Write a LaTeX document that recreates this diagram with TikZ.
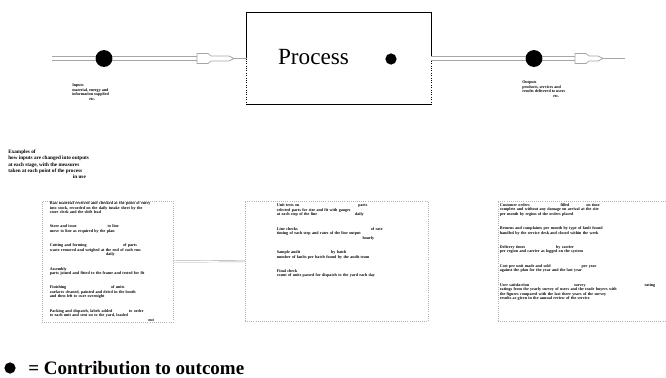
\documentclass[tikz,border=0pt]{standalone}
\usepackage{fontspec}
\setmainfont{Liberation Serif}
\usetikzlibrary{arrows.meta,positioning}

\newcommand{\minitext}{\fontsize{2.9}{3.2}\selectfont\bfseries}

\begin{document}
\begin{tikzpicture}[x=0.025cm,y=-0.025cm,
    pipe/.style={draw=gray!70, double=white, double distance=2.6pt, line width=0.6pt},
    thin/.style={draw=gray!70, line width=0.4pt},
    tip/.style={draw=gray!70, fill=white, line width=0.5pt},
    dot/.style={circle, fill=black, inner sep=0pt, minimum size=#1},
    stagebox/.style={draw=gray!60, densely dotted, line width=0.5pt, inner sep=0pt},
    small/.style={font=\minitext, align=left, inner sep=0pt}]
    \useasboundingbox (0,0) rectangle (666,377);

    % process box
    \node[minimum width=4.6cm, minimum height=2.275cm, inner sep=0pt] (proc) at (339,58.5) {};
    \draw[line width=0.7pt] (proc.west) -- (proc.north west) -- (proc.north east) -- (proc.east);
    \draw[line width=0.7pt, densely dotted] (proc.west) -- (proc.south west);
    \draw[line width=0.7pt, densely dotted] (proc.east) -- (proc.south east);
    \draw[line width=0.7pt] (proc.south west) -- (proc.south east);
    \node[font=\fontsize{16.5}{18}\selectfont] (ptext) at (313.5,57) {Process};
    \node[dot=8pt] (pdot) at (391,59) {};

    % input side
    \coordinate (inL) at (52,58.5);
    \coordinate (inA) at (197,58.5);
    \coordinate (inB) at (234,58.5);
    \draw[pipe] (inL) -- (inA);
    \draw[tip] (197,53.5) -- (208,53.5) -- (211,56) -- (229,56) -- (234,58.5) -- (229,61) -- (211,61) -- (208,63.5) -- (197,63.5) -- cycle;
    \draw[thin] (inB) -- (proc.west);
    \node[dot=12pt] (indot) at (104,58.5) {};
    \node[small, anchor=north west] (inlab) at (72,84) {Inputs\\ material, energy and\\ information supplied\\ \hspace{12pt}etc.};

    % output side
    \coordinate (outA) at (575,58.5);
    \coordinate (outB) at (603,58.5);
    \coordinate (outR) at (625,58.5);
    \draw[pipe] (proc.east) -- (outA);
    \draw[tip] (575,53.5) -- (586,53.5) -- (589,56) -- (598,56) -- (603,58.5) -- (598,61) -- (589,61) -- (586,63.5) -- (575,63.5) -- cycle;
    \draw[thin] (outB) -- (outR);
    \node[dot=12pt] (outdot) at (534,58.5) {};
    \node[small, anchor=north west] (outlab) at (522,81) {Outputs\\ products, services and\\ results delivered to users\\ \hspace{22pt}etc.};

    % examples
    \node[small, font=\fontsize{3.7}{4.3}\selectfont\bfseries, anchor=north west] (exlab) at (8,150) {Examples of\\ how inputs are changed into outputs\\ at each stage, with the measures\\ taken at each point of the process\\ \hspace{46pt}in use};

    \node[stagebox, minimum width=3.275cm, minimum height=3.025cm] (boxA) at (107.5,261.5) {};
    \node[stagebox, minimum width=4.575cm, minimum height=3cm] (boxB) at (336.5,261) {};
    \node[stagebox, minimum width=4.6cm, minimum height=3cm] (boxC) at (590,261) {};

    \node[small, anchor=north west, text width=3.05cm] (textA) at (boxA.north west) [xshift=0.2cm, yshift=-0.02cm] {%
        Raw material received and checked at the point of entry\\ into stock, recorded on the daily intake sheet by the\\ store clerk and the shift lead\\[7pt]
        Store and issue \hspace{20pt} to line\\ move to line as required by the plan\\[7pt]
        Cutting and forming \hspace{24pt} of parts\\ waste removed and weighed at the end of each run\\ \hspace{40pt}daily\\[7pt]
        Assembly\\ parts joined and fitted to the frame and tested for fit\\[7pt]
        Finishing \hspace{30pt} of units\\ surfaces cleaned, painted and dried in the booth\\ and then left to cure overnight\\[7pt]
        Packing and dispatch, labels added \hspace{10pt} to order\\ to each unit and sent on to the yard, loaded\\ \hspace{70pt}out};
    \node[small, anchor=north west, text width=3cm] (textB) at (boxB.north west) [xshift=0.8cm, yshift=-0.08cm] {%
        Unit tests on \hspace{40pt} parts\\ selected parts for size and fit with gauges\\ at each step of the line \hspace{25pt} daily\\[7pt]
        Line checks \hspace{50pt} of rate\\ timing of each step and rates of the line output\\ \hspace{60pt} hourly\\[7pt]
        Sample audit \hspace{20pt} by batch\\ number of faults per batch found by the audit team\\[7pt]
        Final check\\ count of units passed for dispatch to the yard each day};
    \node[small, anchor=north west, text width=4.1cm] (textC) at (boxC.north west) [xshift=0.05cm, yshift=-0.06cm] {%
        Customer orders \hspace{20pt} filled \hspace{10pt} on time\\ complete and without any damage on arrival at the site\\ per month by region of the orders placed\\[7pt]
        Returns and complaints per month by type of fault found\\ handled by the service desk and closed within the week\\[7pt]
        Delivery times \hspace{20pt} by carrier\\ per region and carrier as logged on the system\\[7pt]
        Cost per unit made and sold \hspace{20pt} per year\\ against the plan for the year and the last year\\[7pt]
        User satisfaction \hspace{30pt} survey \hspace{40pt} rating\\ ratings from the yearly survey of users and the trade buyers with\\ the figures compared with the last three years of the survey\\ results as given in the annual review of the service};

    \draw[thin, double distance=0.8pt, line width=0.3pt] (boxA.east) -- (boxB.west);
    \draw[thin, double distance=0.8pt, line width=0.3pt] (boxB.east) -- (boxC.west);

    % legend
    \node[dot=8pt] (keydot) at (10,368) {};
    \node[anchor=west, font=\fontsize{13.5}{15}\selectfont\bfseries, inner sep=0pt] (keytext) at (28,368) {= Contribution to outcome};
\end{tikzpicture}
\end{document}
